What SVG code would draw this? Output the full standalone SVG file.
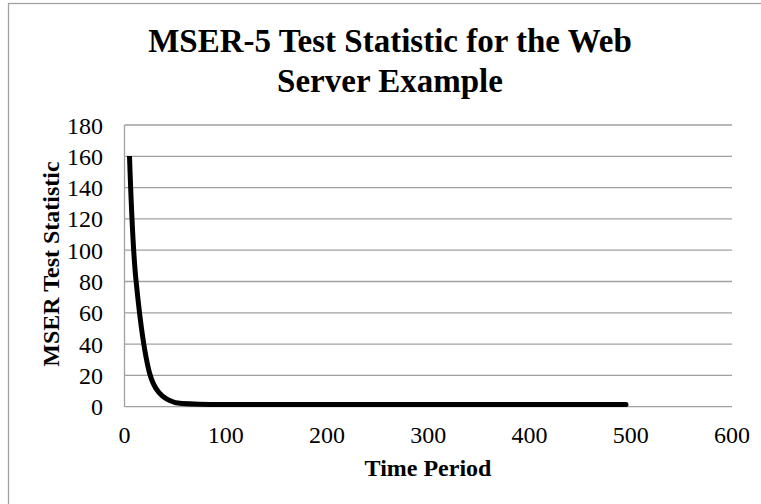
<svg xmlns="http://www.w3.org/2000/svg" width="761" height="504" viewBox="0 0 761 504">
  <style>
    .frame { fill: #ffffff; stroke: #a0a0a0; stroke-width: 1.3; }
    .grid { stroke: #a0a0a0; stroke-width: 1.3; fill: none; }
    .tick { font-family: "Liberation Serif", "Times New Roman", serif; font-size: 24px; fill: #000000; }
    .ylab { text-anchor: end; }
    .xlab { text-anchor: middle; }
    .title { font-family: "Liberation Serif", "Times New Roman", serif; font-weight: bold; font-size: 33px; fill: #000000; text-anchor: middle; }
    .axis-title { font-family: "Liberation Serif", "Times New Roman", serif; font-weight: bold; font-size: 24px; fill: #000000; text-anchor: middle; }
    .series { fill: none; stroke: #000000; stroke-width: 5; stroke-linejoin: round; }
  </style>

  <!-- chart frame (extends past the right and bottom edges) -->
  <rect class="frame" x="8.5" y="3.5" width="800" height="600"/>

  <!-- chart title -->
  <g id="title">
    <text class="title" x="390" y="52">MSER-5 Test Statistic for the Web</text>
    <text class="title" x="390" y="91.5">Server Example</text>
  </g>

  <!-- horizontal gridlines every 20 units, plus the value axis -->
  <g id="grid">
    <line class="grid" x1="124.5" y1="125" x2="732" y2="125"/>
    <line class="grid" x1="124.5" y1="156.3" x2="732" y2="156.3"/>
    <line class="grid" x1="124.5" y1="187.6" x2="732" y2="187.6"/>
    <line class="grid" x1="124.5" y1="218.9" x2="732" y2="218.9"/>
    <line class="grid" x1="124.5" y1="250.2" x2="732" y2="250.2"/>
    <line class="grid" x1="124.5" y1="281.5" x2="732" y2="281.5"/>
    <line class="grid" x1="124.5" y1="312.8" x2="732" y2="312.8"/>
    <line class="grid" x1="124.5" y1="344.1" x2="732" y2="344.1"/>
    <line class="grid" x1="124.5" y1="375.4" x2="732" y2="375.4"/>
    <line class="grid" x1="124.5" y1="406.7" x2="732" y2="406.7"/>
    <line class="grid" x1="124.5" y1="125" x2="124.5" y2="406.7"/>
  </g>

  <!-- value axis labels -->
  <g id="y-axis-labels" class="tick ylab">
    <text x="103" y="133.5">180</text>
    <text x="103" y="164.8">160</text>
    <text x="103" y="196.1">140</text>
    <text x="103" y="227.4">120</text>
    <text x="103" y="258.7">100</text>
    <text x="103" y="290">80</text>
    <text x="103" y="321.3">60</text>
    <text x="103" y="352.6">40</text>
    <text x="103" y="383.9">20</text>
    <text x="103" y="415.2">0</text>
  </g>

  <!-- category axis labels -->
  <g id="x-axis-labels" class="tick xlab">
    <text x="124.5" y="443">0</text>
    <text x="225.7" y="443">100</text>
    <text x="327" y="443">200</text>
    <text x="428.2" y="443">300</text>
    <text x="529.5" y="443">400</text>
    <text x="630.7" y="443">500</text>
    <text x="732" y="443">600</text>
  </g>

  <!-- axis titles -->
  <g id="x-axis-title">
    <text class="axis-title" x="428" y="476">Time Period</text>
  </g>
  <g id="y-axis-title">
    <text class="axis-title" transform="translate(59,264) rotate(-90)" x="0" y="0">MSER Test Statistic</text>
  </g>

  <!-- data series -->
  <g id="series">
    <path class="series" stroke-linecap="butt" d="M129.5,156 C131,200 133,255 136.5,285 C139.5,315 143,348 149.5,373 C154,389 161,399 176,402.8 C186,404.2 196,404.3 210,404.4 L380,404.6 L626,404.6"/>
    <circle cx="626" cy="404.6" r="2.5" fill="#000000"/>
  </g>
</svg>
